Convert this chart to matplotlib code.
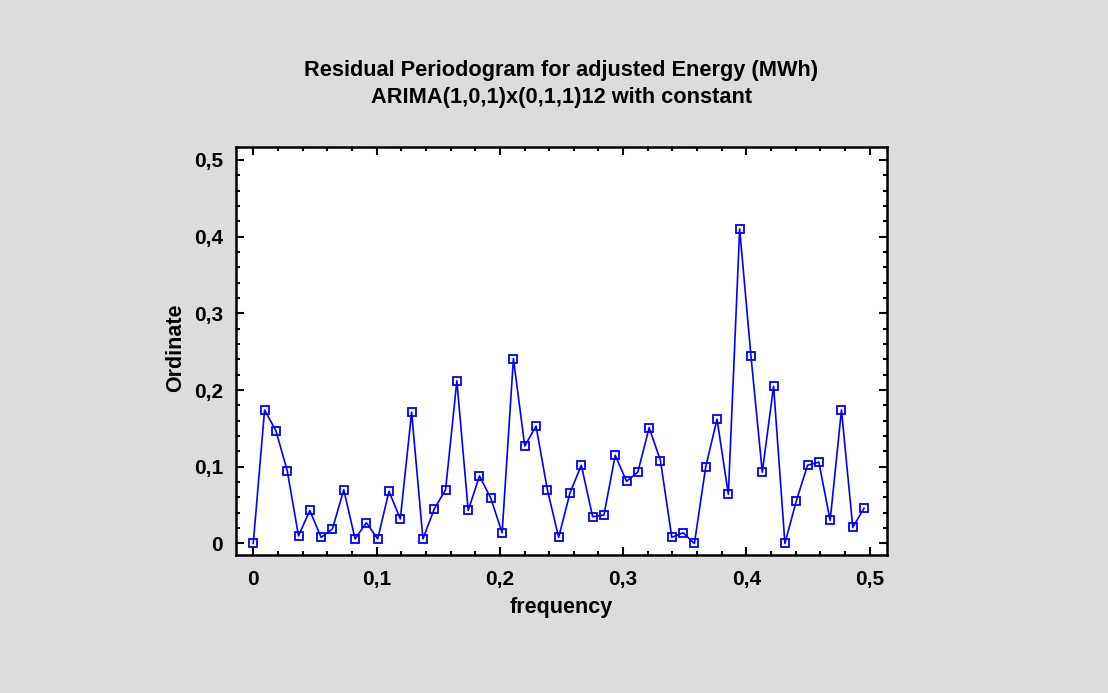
import matplotlib
matplotlib.use("Agg")
import matplotlib.pyplot as plt
from matplotlib.ticker import MultipleLocator, FuncFormatter

# ---- data ----
n_obs = 109
k_index = list(range(55))
ordinate = [0.000, 0.174, 0.147, 0.095, 0.010, 0.043, 0.008, 0.019, 0.070, 0.006,
            0.027, 0.006, 0.068, 0.032, 0.171, 0.006, 0.045, 0.070, 0.212, 0.043,
            0.088, 0.059, 0.014, 0.241, 0.127, 0.153, 0.070, 0.008, 0.066, 0.102,
            0.035, 0.037, 0.115, 0.081, 0.093, 0.151, 0.108, 0.008, 0.014, 0.000,
            0.100, 0.162, 0.064, 0.410, 0.244, 0.093, 0.205, 0.000, 0.055, 0.102,
            0.106, 0.030, 0.174, 0.021, 0.046]
frequency = [k / n_obs for k in k_index]

title_lines = ["Residual Periodogram for adjusted Energy (MWh)",
               "ARIMA(1,0,1)x(0,1,1)12 with constant"]
xlabel = "frequency"
ylabel = "Ordinate"

plt.rcParams['font.family'] = ['Liberation Sans', 'DejaVu Sans']
plt.rcParams['font.weight'] = 'bold'

W, H = 1108, 693
fig = plt.figure(figsize=(W / 100, H / 100), dpi=100)
fig.patch.set_facecolor('#dcdcdc')

left, right, top, bottom = 236, 887, 147, 555
ax = fig.add_axes([left / W, 1 - bottom / H, (right - left) / W, (bottom - top) / H])
ax.set_facecolor('white')

ax.plot(frequency, ordinate, color='#0000ff', lw=1.2,
        marker='s', markersize=5.8, markerfacecolor='none',
        markeredgecolor='#0000ff', markeredgewidth=1.3)

ax.set_xlim(-0.014, 0.514)
ax.set_ylim(-0.015, 0.5167)

fmt = FuncFormatter(lambda v, p: ('0' if abs(v) < 1e-9 else f"{v:.1f}".replace('.', ',')))
ax.xaxis.set_major_locator(MultipleLocator(0.1))
ax.xaxis.set_minor_locator(MultipleLocator(0.02))
ax.yaxis.set_major_locator(MultipleLocator(0.1))
ax.yaxis.set_minor_locator(MultipleLocator(0.02))
ax.xaxis.set_major_formatter(fmt)
ax.yaxis.set_major_formatter(fmt)

ax.tick_params(which='both', direction='in', top=True, right=True, width=1.5)
ax.tick_params(which='major', length=6)
ax.tick_params(which='minor', length=3)
ax.tick_params(axis='x', which='major', pad=10.5, labelsize=15)
ax.tick_params(axis='y', which='major', pad=9.2, labelsize=15)
for lab in ax.get_xticklabels() + ax.get_yticklabels():
    lab.set_fontweight('bold')
for s in ax.spines.values():
    s.set_linewidth(1.8)

cx = (left + right) / 2 / W
fig.text(cx, 1 - 76 / H, title_lines[0], ha='center', va='baseline',
         fontsize=15.7, fontweight='bold')
fig.text(cx, 1 - 102.5 / H, title_lines[1], ha='center', va='baseline',
         fontsize=15.7, fontweight='bold')

fig.text(cx, 1 - 613 / H, xlabel, ha='center', va='baseline',
         fontsize=15.5, fontweight='bold')
fig.text(176 / W, 1 - 348 / H, ylabel, ha='center', va='center', rotation=90,
         fontsize=15.5, fontweight='bold')

fig.savefig('out.png', dpi=100, facecolor=fig.get_facecolor())
